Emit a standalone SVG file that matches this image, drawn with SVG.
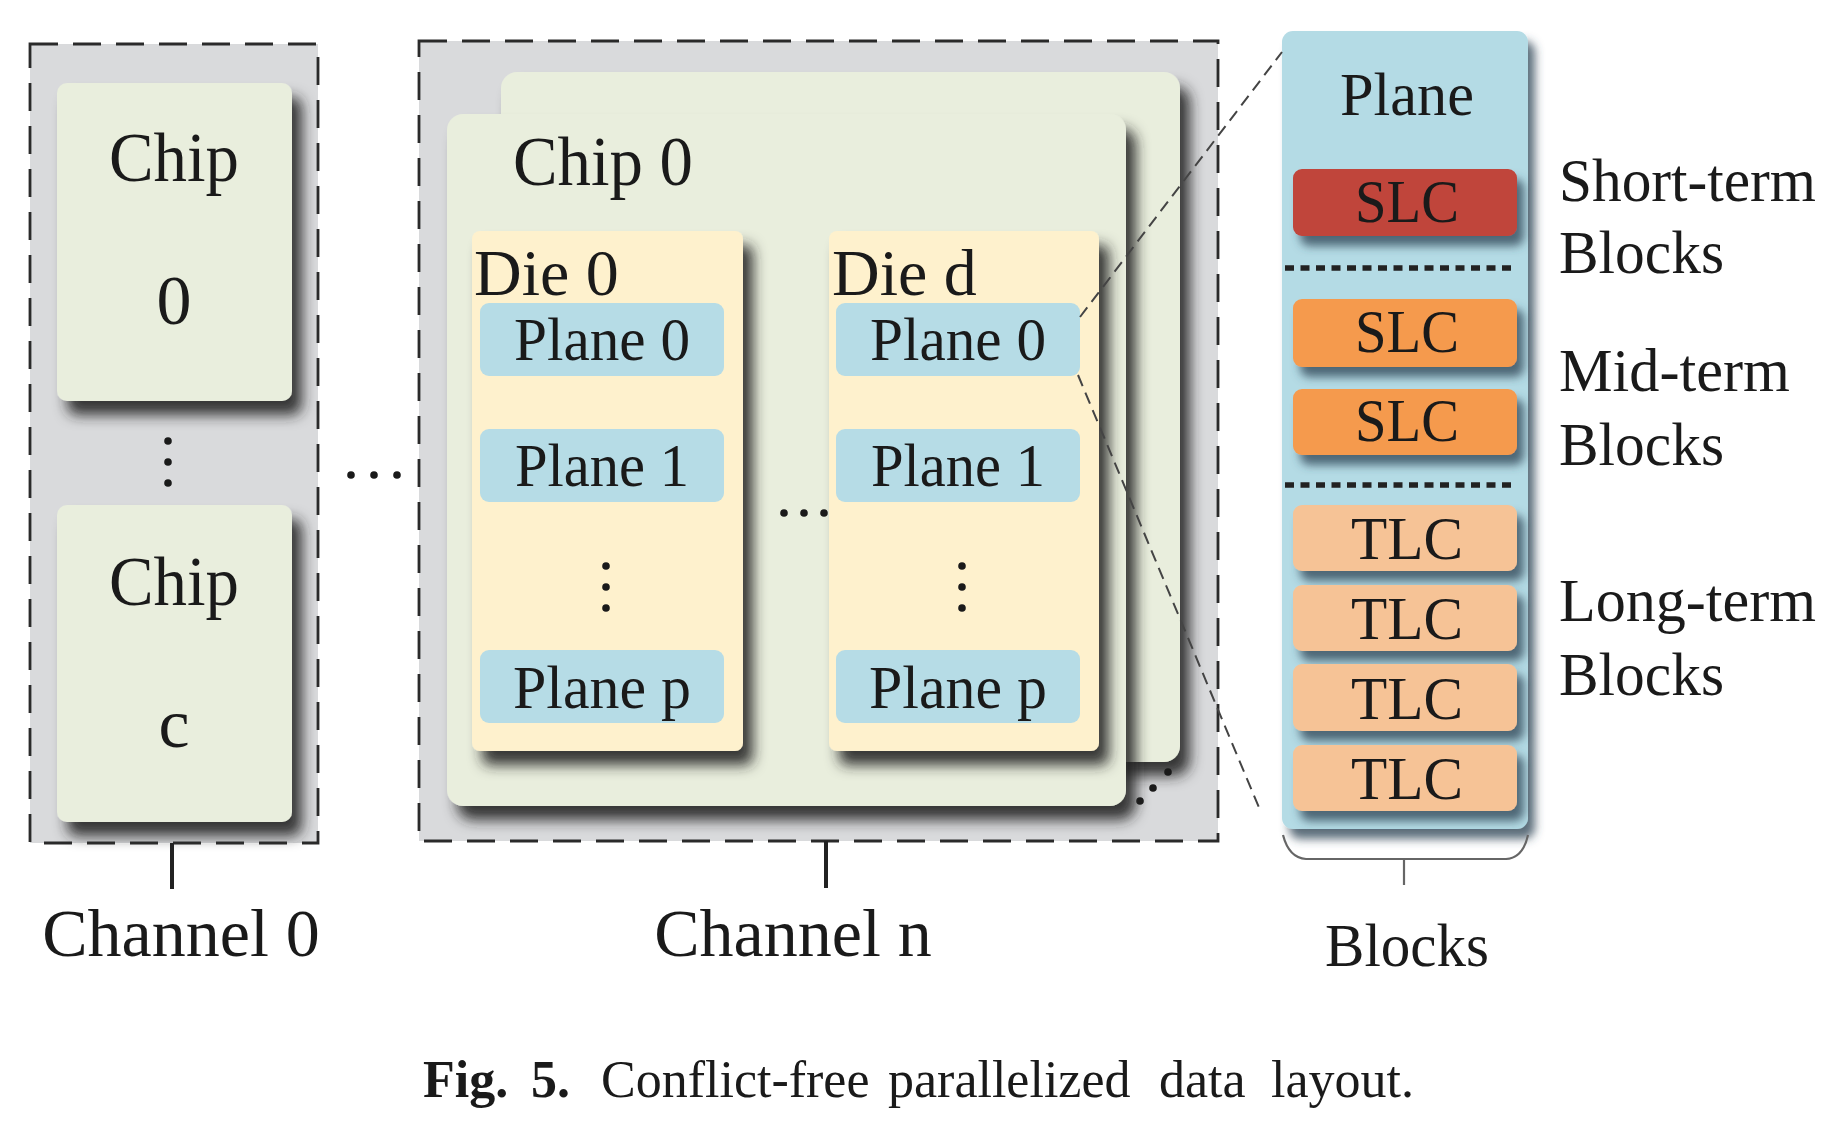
<svg xmlns="http://www.w3.org/2000/svg" width="1832" height="1124" viewBox="0 0 1832 1124">
<defs>
<filter id="sh" x="-20%" y="-20%" width="150%" height="150%">
<feDropShadow dx="10" dy="14" stdDeviation="7" flood-color="#222222" flood-opacity="0.9"/>
</filter>
<filter id="shb" x="-20%" y="-30%" width="150%" height="180%">
<feDropShadow dx="7" dy="10" stdDeviation="5" flood-color="#34495a" flood-opacity="0.8"/>
</filter>
<style>
text{font-family:"Liberation Serif","Times New Roman",serif;fill:#1a1a1a}
.chan{fill:#d9dadc;stroke:#2a2a2a;stroke-width:2.8;stroke-dasharray:28 15}
.chip{fill:#e9eedd}
.die{fill:#fef1cd}
.pl{fill:#b6dce6}
.big{font-size:70px}
.mid{font-size:66px}
.pt{font-size:62px;text-anchor:middle}
.lbl{font-size:62px}
.c{text-anchor:middle}
.dot{fill:#1a1a1a}
.sep{stroke:#222;stroke-width:5.5;stroke-dasharray:9 6.5}
.zoom{fill:none;stroke:#444;stroke-width:2;stroke-dasharray:12 7}
.red{fill:#c0443a}
.org{fill:#f59a4e}
.tlc{fill:#f6c396}
</style>
</defs>
<rect width="1832" height="1124" fill="#ffffff"/>

<g id="channel0">
<rect class="chan" x="30" y="44" width="288" height="799"/>
<g id="chip0-left">
<rect class="chip" x="57" y="83" width="235" height="318" rx="10" filter="url(#sh)"/>
<text class="big c" x="174" y="181" textLength="130" lengthAdjust="spacingAndGlyphs">Chip</text>
<text class="big c" x="174" y="324">0</text>
</g>
<g class="dot">
<circle cx="168" cy="441" r="3.8"/><circle cx="168" cy="462" r="3.8"/><circle cx="168" cy="483" r="3.8"/>
</g>
<g id="chipc-left">
<rect class="chip" x="57" y="505" width="235" height="317" rx="10" filter="url(#sh)"/>
<text class="big c" x="174" y="605" textLength="130" lengthAdjust="spacingAndGlyphs">Chip</text>
<text class="big c" x="174" y="747">c</text>
</g>
<text class="c" x="181" y="956" style="font-size:68px">Channel 0</text>
</g>

<g id="hdots" class="dot">
<circle cx="351" cy="475" r="3.8"/><circle cx="374" cy="475" r="3.8"/><circle cx="397" cy="475" r="3.8"/>
</g>

<g id="channeln">
<rect class="chan" x="419" y="41" width="799" height="800"/>
<rect id="chip-back" class="chip" x="501" y="72" width="679" height="690" rx="16" filter="url(#sh)"/>
<g class="dot">
<circle cx="1168" cy="772" r="3.8"/><circle cx="1153" cy="788" r="3.8"/><circle cx="1140" cy="801" r="3.8"/>
</g>
<g id="chip0">
<rect class="chip" x="447" y="114" width="679" height="692" rx="16" filter="url(#sh)"/>
<text class="big" x="513" y="185" textLength="180" lengthAdjust="spacingAndGlyphs">Chip 0</text>
</g>
<g id="die0">
<rect class="die" x="472" y="231" width="271" height="520" rx="8" filter="url(#sh)"/>
<text class="mid" x="474" y="295">Die 0</text>
<rect class="pl" x="480" y="303" width="244" height="73" rx="9"/>
<text class="pt" x="602" y="360" textLength="176" lengthAdjust="spacingAndGlyphs">Plane 0</text>
<rect class="pl" x="480" y="429" width="244" height="73" rx="9"/>
<text class="pt" x="602" y="486" textLength="174" lengthAdjust="spacingAndGlyphs">Plane 1</text>
<g class="dot"><circle cx="606" cy="566" r="3.8"/><circle cx="606" cy="587" r="3.8"/><circle cx="606" cy="608" r="3.8"/></g>
<rect class="pl" x="480" y="650" width="244" height="73" rx="9"/>
<text class="pt" x="602" y="708" textLength="178" lengthAdjust="spacingAndGlyphs">Plane p</text>
</g>
<g class="dot">
<circle cx="784" cy="513" r="3.8"/><circle cx="804" cy="513" r="3.8"/><circle cx="824" cy="513" r="3.8"/>
</g>
<g id="died">
<rect class="die" x="829" y="231" width="270" height="520" rx="8" filter="url(#sh)"/>
<text class="mid" x="832" y="295">Die d</text>
<rect class="pl" x="836" y="303" width="244" height="73" rx="9"/>
<text class="pt" x="958" y="360" textLength="176" lengthAdjust="spacingAndGlyphs">Plane 0</text>
<rect class="pl" x="836" y="429" width="244" height="73" rx="9"/>
<text class="pt" x="958" y="486" textLength="174" lengthAdjust="spacingAndGlyphs">Plane 1</text>
<g class="dot"><circle cx="962" cy="566" r="3.8"/><circle cx="962" cy="587" r="3.8"/><circle cx="962" cy="608" r="3.8"/></g>
<rect class="pl" x="836" y="650" width="244" height="73" rx="9"/>
<text class="pt" x="958" y="708" textLength="178" lengthAdjust="spacingAndGlyphs">Plane p</text>
</g>
<text class="c" x="793" y="956" style="font-size:68px">Channel n</text>
</g>

<g id="plane-detail">
<rect x="1282" y="31" width="246" height="798" rx="11" fill="#b4dbe5" filter="url(#shb)"/>
<text class="pt" x="1407" y="115" textLength="134" lengthAdjust="spacingAndGlyphs">Plane</text>
<rect class="red" x="1293" y="169" width="224" height="67" rx="9" filter="url(#shb)"/>
<text class="pt" x="1407" y="222" textLength="104" lengthAdjust="spacingAndGlyphs">SLC</text>
<rect class="org" x="1293" y="299" width="224" height="68" rx="9" filter="url(#shb)"/>
<text class="pt" x="1407" y="352" textLength="104" lengthAdjust="spacingAndGlyphs">SLC</text>
<rect class="org" x="1293" y="389" width="224" height="66" rx="9" filter="url(#shb)"/>
<text class="pt" x="1407" y="441" textLength="104" lengthAdjust="spacingAndGlyphs">SLC</text>
<rect class="tlc" x="1293" y="505" width="224" height="66" rx="9" filter="url(#shb)"/>
<text class="pt" x="1407" y="559" textLength="112" lengthAdjust="spacingAndGlyphs">TLC</text>
<rect class="tlc" x="1293" y="585" width="224" height="66" rx="9" filter="url(#shb)"/>
<text class="pt" x="1407" y="639" textLength="112" lengthAdjust="spacingAndGlyphs">TLC</text>
<rect class="tlc" x="1293" y="664" width="224" height="67" rx="9" filter="url(#shb)"/>
<text class="pt" x="1407" y="719" textLength="112" lengthAdjust="spacingAndGlyphs">TLC</text>
<rect class="tlc" x="1293" y="745" width="224" height="66" rx="9" filter="url(#shb)"/>
<text class="pt" x="1407" y="799" textLength="112" lengthAdjust="spacingAndGlyphs">TLC</text>
<line class="sep" x1="1285" y1="268" x2="1517" y2="268"/>
<line class="sep" x1="1285" y1="485" x2="1517" y2="485"/>
</g>

<g id="labels">
<text class="lbl" x="1559" y="201" textLength="257" lengthAdjust="spacingAndGlyphs">Short-term</text>
<text class="lbl" x="1559" y="273" textLength="165" lengthAdjust="spacingAndGlyphs">Blocks</text>
<text class="lbl" x="1559" y="391" textLength="231" lengthAdjust="spacingAndGlyphs">Mid-term</text>
<text class="lbl" x="1559" y="465" textLength="165" lengthAdjust="spacingAndGlyphs">Blocks</text>
<text class="lbl" x="1559" y="621" textLength="257" lengthAdjust="spacingAndGlyphs">Long-term</text>
<text class="lbl" x="1559" y="695" textLength="165" lengthAdjust="spacingAndGlyphs">Blocks</text>
<text class="pt" x="1407" y="966" textLength="164" lengthAdjust="spacingAndGlyphs">Blocks</text>
</g>

<g id="connectors">
<line x1="172" y1="843" x2="172" y2="889" stroke="#222" stroke-width="4"/>
<line x1="826" y1="841" x2="826" y2="888" stroke="#222" stroke-width="4"/>
<path class="zoom" d="M1080,317 L1282,52"/>
<path class="zoom" d="M1078,375 L1260,810"/>
<path d="M1283,835 Q1289,858 1306,859 L1506,859 Q1523,858 1528,835" fill="none" stroke="#666" stroke-width="2.2"/>
<line x1="1404" y1="860" x2="1404" y2="885" stroke="#666" stroke-width="2.2"/>
</g>

<g id="caption">
<text y="1097" style="font-size:52px"><tspan x="423" font-weight="bold">Fig.</tspan><tspan x="531" font-weight="bold">5.</tspan><tspan x="601">Conflict-free</tspan><tspan x="888">parallelized</tspan><tspan x="1159">data</tspan><tspan x="1271">layout.</tspan></text>
</g>
</svg>
